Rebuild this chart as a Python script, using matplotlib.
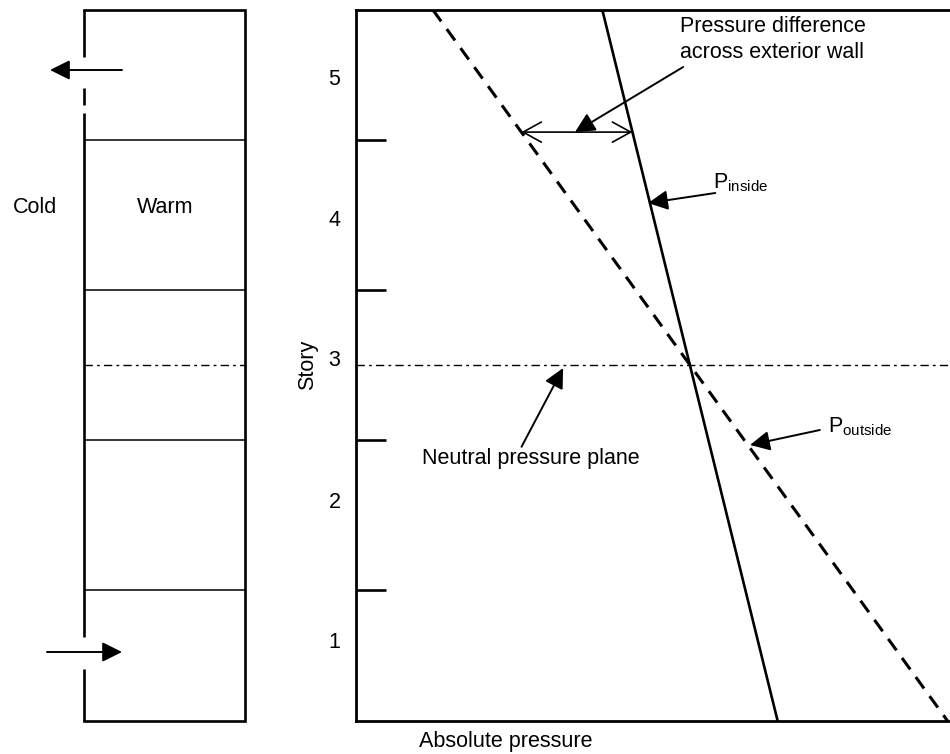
import matplotlib
matplotlib.use('Agg')
import matplotlib.pyplot as plt
import numpy as np

plt.rcParams['font.family'] = ['Liberation Sans', 'DejaVu Sans']
plt.rcParams['mathtext.fontset'] = 'custom'
plt.rcParams['mathtext.rm'] = 'Liberation Sans'

# Données du schéma (étages et pressions en unités arbitraires)
story_range = [0.627, 5.367]
story_bounds = [1.5, 2.5, 3.5, 4.5]
neutral_story = 3.0
story_labels = ['1', '2', '3', '4', '5']
story_label_pos = [1.17, 2.1, 3.05, 3.98, 4.92]

line_story = [5.367, 0.627]
p_inside = [41.5, 71.0]
p_outside = [13.0, 99.6]
p_range = [0, 100]

# Bâtiment : murs (0 -> 1), ouvertures et flux d'air
wall_left_segments = [(5.367, 5.053), (4.847, 4.733), (4.68, 1.187), (0.973, 0.627)]
outflow_story = 4.967
inflow_story = 1.087

diff_story = 4.553

fig = plt.figure(figsize=(9.5, 7.54), dpi=100)
b = 1 - 721 / 754
h = (721 - 10) / 754

dashdot = (0, (6, 3, 2, 3))
fs = 15.5

# Panneau gauche : le bâtiment
axL = fig.add_axes([0, b, 285 / 950, h])
axL.set_xlim(-0.5217, 1.2484)
axL.set_ylim(story_range)
axL.axis('off')

top, bottom = story_range[1], story_range[0]
axL.plot([0, 1, 1, 0], [top, top, bottom, bottom], color='black', lw=1.9,
         solid_joinstyle='miter', clip_on=False)
for y0, y1 in wall_left_segments:
    axL.plot([0, 0], [y0, y1], color='black', lw=1.9, solid_capstyle='butt', clip_on=False)
axL.hlines(story_bounds, 0, 1, color='black', lw=1.1)
axL.hlines(neutral_story, 0, 1, color='black', lw=1.0, linestyles=[dashdot])

arrow_fill = dict(arrowstyle='-|>', mutation_scale=30, lw=1.4, color='black',
                  shrinkA=0, shrinkB=0)
axL.annotate('', xy=(-0.211, outflow_story), xytext=(0.236, outflow_story), arrowprops=arrow_fill)
axL.annotate('', xy=(0.236, inflow_story), xytext=(-0.23, inflow_story), arrowprops=arrow_fill)

axL.text(-0.304, 4.053, 'Cold', ha='center', va='center', fontsize=fs)
axL.text(0.503, 4.053, 'Warm', ha='center', va='center', fontsize=fs)

# Panneau droit : pression absolue en fonction de l'étage
ax = fig.add_axes([355.7 / 950, b, 1 - 355.7 / 950, h])
ax.set_xlim(p_range)
ax.set_ylim(story_range)

ax.plot(p_inside, line_story, color='black', lw=1.9)
ax.plot(p_outside, line_story, color='black', lw=2.2, ls=(0, (4.6, 3.1)))
ax.axhline(neutral_story, color='black', lw=1.0, ls=dashdot)

for side in ['left', 'top', 'bottom']:
    ax.spines[side].set_linewidth(2.0)
ax.spines['right'].set_visible(False)

ax.set_xticks([])
ax.set_yticks(story_label_pos, story_labels)
ax.tick_params(axis='y', which='major', length=0, pad=11, labelsize=fs)
ax.set_yticks(story_bounds, minor=True)
ax.tick_params(axis='y', which='minor', direction='in', length=21.6, width=1.9)

fig.text(506 / 950, 1 - 741 / 754, 'Absolute pressure', ha='center', va='center', fontsize=fs)
fig.text(308 / 950, 1 - 365 / 754, 'Story', ha='center', va='center', rotation=90, fontsize=fs)

# Différence de pression à travers le mur extérieur
left_p = np.interp(diff_story, line_story[::-1], p_outside[::-1])
right_p = np.interp(diff_story, line_story[::-1], p_inside[::-1])
ax.annotate('', xy=(left_p, diff_story), xytext=(right_p, diff_story),
            arrowprops=dict(arrowstyle='<->,head_length=0.6,head_width=0.33',
                            mutation_scale=22, lw=1.2, color='black',
                            shrinkA=0, shrinkB=0))

ax.annotate('', xy=(36.9, diff_story), xytext=(55.1, 4.987), arrowprops=arrow_fill)
ax.text(54.6, 5.173, 'Pressure difference\nacross exterior wall', ha='left', va='center',
        fontsize=fs, linespacing=1.3)

ax.annotate('', xy=(49.2, 4.08), xytext=(60.5, 4.147), arrowprops=arrow_fill)
ax.text(60.2, 4.213, r'P$_{\mathrm{inside}}$', ha='left', va='center', fontsize=fs)

ax.annotate('', xy=(66.35, 2.467), xytext=(78.1, 2.567), arrowprops=arrow_fill)
ax.text(79.5, 2.587, r'P$_{\mathrm{outside}}$', ha='left', va='center', fontsize=fs)

ax.annotate('', xy=(34.9, 2.98), xytext=(27.9, 2.455), arrowprops=arrow_fill)
ax.text(29.5, 2.38, 'Neutral pressure plane', ha='center', va='center', fontsize=fs)

plt.savefig('out.png', dpi=100)
plt.close()
